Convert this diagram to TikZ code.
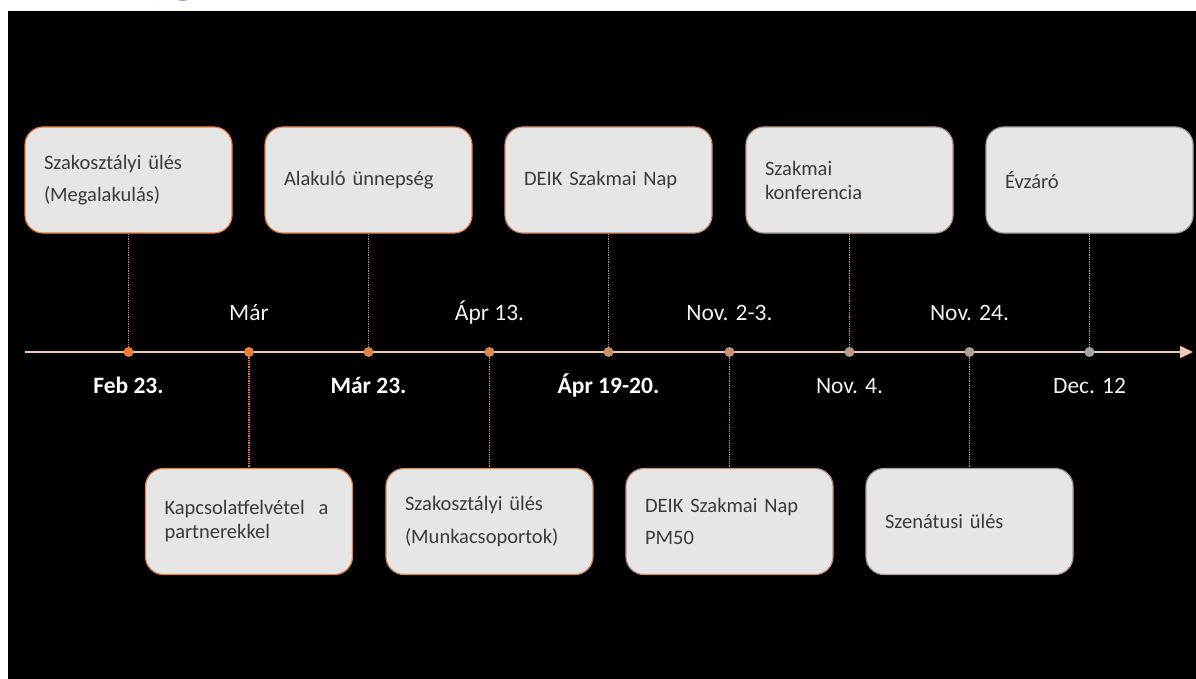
\documentclass[tikz,border=0pt]{standalone}
\usepackage{fontspec}
\setmainfont{Carlito}
\usetikzlibrary{arrows.meta}
\definecolor{tlorange}{HTML}{ED7D31}
\definecolor{tlgrey}{HTML}{A5A5A5}
\definecolor{axiscol}{HTML}{F4C7B3}
\definecolor{boxfill}{HTML}{E6E6E6}
\definecolor{boxtext}{HTML}{3A3A3A}
\definecolor{datetext}{HTML}{F2F2F2}
\definecolor{headblue}{HTML}{2E6DB4}
\colorlet{ev1}{tlorange}
\colorlet{ev2}{tlorange!92!tlgrey}
\colorlet{ev3}{tlorange!82!tlgrey}
\colorlet{ev4}{tlorange!70!tlgrey}
\colorlet{ev5}{tlorange!58!tlgrey}
\colorlet{ev6}{tlorange!45!tlgrey}
\colorlet{ev7}{tlorange!32!tlgrey}
\colorlet{ev8}{tlorange!18!tlgrey}
\colorlet{ev9}{tlgrey}
\begin{document}
\begin{tikzpicture}[x=1pt,y=-1pt,
    event/.style={draw=#1, fill=boxfill, line width=1.2pt, rounded corners=18pt,
        minimum width=207pt, minimum height=106pt, inner xsep=19pt, text width=169pt,
        align=left, text=boxtext, font=\fontsize{20.5}{24}\selectfont},
    dot/.style={circle, fill=#1, inner sep=0pt, minimum size=10pt},
    conn/.style={draw=#1, densely dotted, line width=1.3pt},
    date/.style={anchor=base, text=datetext, font=\fontsize{23.5}{28}\selectfont},
    axis/.style={draw=axiscol, line width=1.6pt, -{Triangle[length=13pt,width=12pt]}}]
    \useasboundingbox (0,0) rectangle (1196,679);
    \fill[black] (8,11) rectangle (1196,679);
    \node[text=headblue, anchor=base west, inner sep=0pt, font=\fontsize{56}{60}\selectfont] (head) at (146,-8.5) {yg};

    \coordinate (axisstart) at (25,352);
    \coordinate (axisend) at (1193,352);
    \draw[axis] (axisstart) -- (axisend);

    \node[dot=ev1] (d1) at (128.5,352) {};
    \node[dot=ev2] (d2) at (249,352) {};
    \node[dot=ev3] (d3) at (368.5,352) {};
    \node[dot=ev4] (d4) at (489.5,352) {};
    \node[dot=ev5] (d5) at (608.5,352) {};
    \node[dot=ev6] (d6) at (729.5,352) {};
    \node[dot=ev7] (d7) at (849.5,352) {};
    \node[dot=ev8] (d8) at (969.5,352) {};
    \node[dot=ev9] (d9) at (1089.5,352) {};

    \node[event=ev1] (e1) at (128.5,180) {Szakosztályi ülés\\[8.5pt](Megalakulás)};
    \node[event=ev2] (e2) at (249,521.5) {Kapcsolatfelvétel~ a\\partnerekkel};
    \node[event=ev3] (e3) at (368.5,180) {Alakuló ünnepség};
    \node[event=ev4] (e4) at (489.5,521.5) {Szakosztályi ülés\\[8.5pt](Munkacsoportok)};
    \node[event=ev5] (e5) at (608.5,180) {DEIK Szakmai Nap};
    \node[event=ev6] (e6) at (729.5,521.5) {DEIK Szakmai Nap\\[8.5pt]PM50};
    \node[event=ev7] (e7) at (849.5,180) {Szakmai\\konferencia};
    \node[event=ev8] (e8) at (969.5,521.5) {Szenátusi ülés};
    \node[event=ev9] (e9) at (1089.5,180) {Évzáró};

    \draw[conn=ev1] (e1) -- (d1);
    \draw[conn=ev2] (d2) -- (e2);
    \draw[conn=ev3] (e3) -- (d3);
    \draw[conn=ev4] (d4) -- (e4);
    \draw[conn=ev5] (e5) -- (d5);
    \draw[conn=ev6] (d6) -- (e6);
    \draw[conn=ev7] (e7) -- (d7);
    \draw[conn=ev8] (d8) -- (e8);
    \draw[conn=ev9] (e9) -- (d9);

    \node[date, text=white] (t1) at (128.5,393) {\bfseries Feb 23.};
    \node[date] (t2) at (249,320) {Már};
    \node[date, text=white] (t3) at (368.5,393) {\bfseries Már 23.};
    \node[date] (t4) at (489.5,320) {Ápr 13.};
    \node[date, text=white] (t5) at (608.5,393) {\bfseries Ápr 19-20.};
    \node[date] (t6) at (729.5,320) {Nov. 2-3.};
    \node[date] (t7) at (849.5,393) {Nov. 4.};
    \node[date] (t8) at (969.5,320) {Nov. 24.};
    \node[date] (t9) at (1089.5,393) {Dec. 12};
\end{tikzpicture}
\end{document}
